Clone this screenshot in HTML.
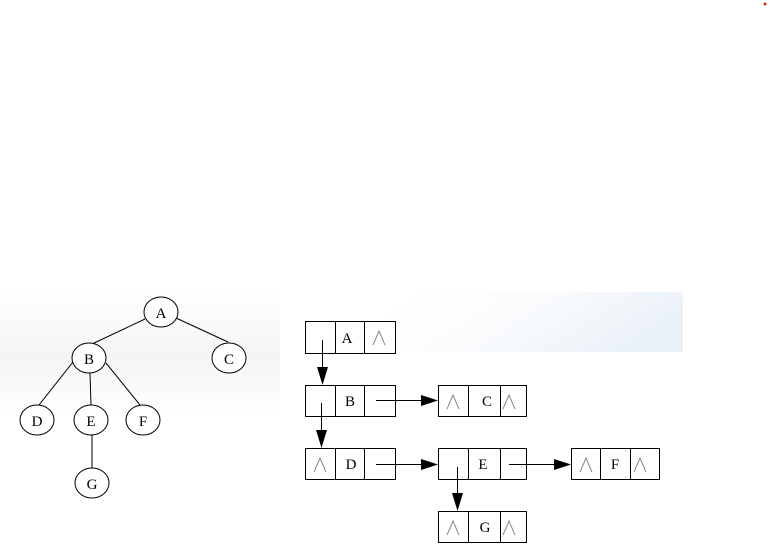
<!DOCTYPE html>
<html><head><meta charset="utf-8"><style>
html,body{margin:0;padding:0;background:#fff;}
body{width:781px;height:553px;position:relative;overflow:hidden;}
</style></head><body>
<svg width="781" height="553" viewBox="0 0 781 553" xmlns="http://www.w3.org/2000/svg" style="position:absolute;left:0;top:0">
<defs>
<linearGradient id="g1" x1="0" y1="0" x2="1" y2="0.3">
<stop offset="0" stop-color="#fff" stop-opacity="0"/><stop offset="1" stop-color="#eaf1f8"/>
</linearGradient>
<linearGradient id="g2" x1="0" y1="0" x2="0" y2="1">
<stop offset="0" stop-color="#fff"/><stop offset="0.5" stop-color="#f4f5f6"/><stop offset="1" stop-color="#fff"/>
</linearGradient>
</defs>
<rect x="370" y="292" width="313" height="60" fill="url(#g1)"/>
<rect x="0" y="290" width="280" height="130" fill="url(#g2)"/>
<circle cx="765" cy="4" r="1.5" fill="#e02020"/>
<g stroke="#000" stroke-width="1" fill="none">
<line x1="145" y1="319" x2="92" y2="344"/>
<line x1="176" y1="318" x2="228" y2="342"/>
<line x1="73" y1="362" x2="39" y2="405"/>
<line x1="90" y1="373" x2="91" y2="405"/>
<line x1="106" y1="363" x2="140" y2="405"/>
<line x1="92" y1="434" x2="92" y2="468"/>
</g>
<g stroke="#000" stroke-width="1" fill="#fff">
<ellipse cx="161" cy="312" rx="17" ry="15"/>
<ellipse cx="89" cy="358" rx="17" ry="15"/>
<ellipse cx="229" cy="358" rx="17" ry="15"/>
<ellipse cx="37" cy="420" rx="17" ry="15"/>
<ellipse cx="91" cy="420" rx="17" ry="15"/>
<ellipse cx="143" cy="420" rx="17" ry="15"/>
<ellipse cx="92" cy="483" rx="17" ry="15"/>
</g>
<g font-family="Liberation Serif, serif" font-size="15" text-anchor="middle" fill="#000">
<text x="161" y="318">A</text><text x="89" y="364">B</text><text x="229" y="364">C</text>
<text x="37" y="426">D</text><text x="91" y="426">E</text><text x="143" y="426">F</text><text x="92" y="489">G</text>
</g>
<g stroke="#000" stroke-width="1" fill="#fff">
<rect x="305.5" y="321.5" width="90" height="32"/><line x1="335.5" y1="321" x2="335.5" y2="353"/><line x1="364.5" y1="321" x2="364.5" y2="353"/>
<rect x="305.5" y="385.5" width="90" height="31"/><line x1="335.5" y1="385" x2="335.5" y2="416"/><line x1="364.5" y1="385" x2="364.5" y2="416"/>
<rect x="305.5" y="448.5" width="90" height="31"/><line x1="335.5" y1="448" x2="335.5" y2="479"/><line x1="364.5" y1="448" x2="364.5" y2="479"/>
<rect x="438.5" y="385.5" width="88" height="31"/><line x1="468.5" y1="385" x2="468.5" y2="416"/><line x1="500.5" y1="385" x2="500.5" y2="416"/>
<rect x="438.5" y="448.5" width="88" height="31"/><line x1="468.5" y1="448" x2="468.5" y2="479"/><line x1="500.5" y1="448" x2="500.5" y2="479"/>
<rect x="571.5" y="448.5" width="88" height="31"/><line x1="600.5" y1="448" x2="600.5" y2="479"/><line x1="630.5" y1="448" x2="630.5" y2="479"/>
<rect x="438.5" y="511.5" width="88" height="31"/><line x1="468.5" y1="511" x2="468.5" y2="542"/><line x1="500.5" y1="511" x2="500.5" y2="542"/>
</g>
<g stroke="#000" stroke-width="1">
<line x1="322.5" y1="340" x2="322.5" y2="370"/>
<line x1="321.5" y1="403" x2="321.5" y2="432"/>
<line x1="376" y1="400.5" x2="424" y2="400.5"/>
<line x1="376" y1="464.5" x2="424" y2="464.5"/>
<line x1="509" y1="464.5" x2="557" y2="464.5"/>
<line x1="457.5" y1="467" x2="457.5" y2="495"/>
</g>
<g fill="#000">
<polygon points="317,367 328,367 322.5,385"/>
<polygon points="316,430 327,430 321.5,448"/>
<polygon points="421,395 438,400.5 421,406"/>
<polygon points="421,459 438,464.5 421,470"/>
<polygon points="554,459 571,464.5 554,470"/>
<polygon points="452,493 463,493 457.5,511"/>
</g>
<g font-family="Liberation Serif, serif" font-size="15" text-anchor="middle" fill="#000">
<text x="347" y="343">A</text><text x="350" y="406">B</text><text x="351" y="469">D</text>
<text x="487" y="406">C</text><text x="483" y="469">E</text><text x="615" y="469">F</text><text x="485" y="532">G</text>
</g>
<g stroke="#888" stroke-width="1" fill="none">
<polyline points="373,345 379,331 385,345"/>
<polyline points="314,472 320,458 326,472"/>
<polyline points="447,409 453,395 459,409"/>
<polyline points="503,409 509,395 515,409"/>
<polyline points="580,472 586,458 592,472"/>
<polyline points="634,472 640,458 646,472"/>
<polyline points="447,535 453,521 459,535"/>
<polyline points="503,535 509,521 515,535"/>
</g>
</svg>
</body></html>
